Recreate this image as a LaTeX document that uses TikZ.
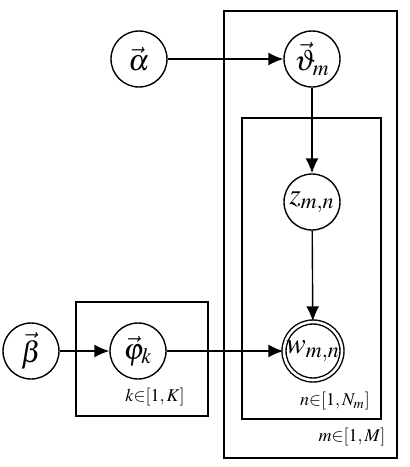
\documentclass[tikz,border=0pt]{standalone}
\usepackage{amsmath,amssymb}
\usepackage{mathptmx}
\usepackage{tikz}
\usetikzlibrary{arrows.meta}

\begin{document}
\begin{tikzpicture}[x=0.5pt,y=-0.5pt,>={Latex[length=7.5pt,width=6.5pt]},
    var/.style={draw,circle,line width=0.7pt,minimum size=28pt,inner sep=0pt,font=\fontsize{14.8}{17}\selectfont},
    obs/.style={var,double,double distance=1.3pt,minimum size=29pt},
    plate/.style={draw,line width=0.7pt},
    idx/.style={font=\small,inner sep=0pt}]
  \useasboundingbox (0,0) rectangle (410,467);
  % Plates
  \draw[plate] (224,11) rectangle (397,458);
  \draw[plate] (242,118) rectangle (381,419);
  \draw[plate] (76,302) rectangle (208,416);
  \node[idx] (klab) at (155,397) {$k{\in}[1,K]$};
  \node[idx] (nlab) at (335,401) {$n{\in}[1,N_m]$};
  \node[idx] (mlab) at (352,437) {$m{\in}[1,M]$};
  % Variables
  \node[var] (alpha) at (139,59) {$\vec{\alpha}$};
  \node[var] (theta) at (312,59) {$\vec{\vartheta}_m$};
  \node[var] (z) at (312,202) {$z_{m,n}$};
  \node[obs] (w) at (313,351) {$w_{m,n}$};
  \node[var] (beta) at (31,351) {$\vec{\beta}$};
  \node[var] (phi) at (138,351) {$\vec{\varphi}_k$};
  % Edges
  \draw[->,line width=0.7pt] (alpha) -- (theta);
  \draw[->,line width=0.7pt] (theta) -- (z);
  \draw[->,line width=0.7pt] (z) -- (w);
  \draw[->,line width=0.7pt] (beta) -- (phi);
  \draw[->,line width=0.7pt] (phi) -- (w);
\end{tikzpicture}
\end{document}
